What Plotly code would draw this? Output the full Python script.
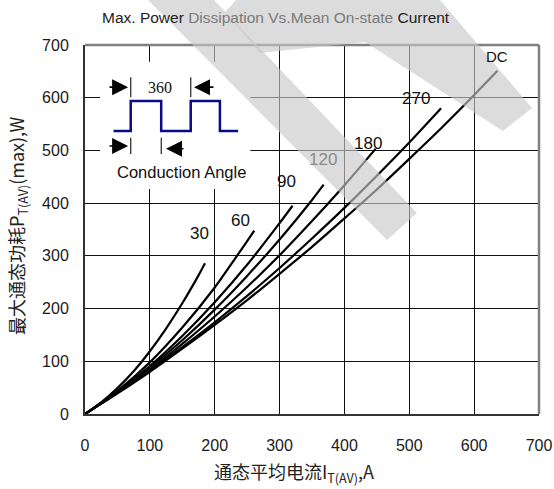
import plotly.graph_objects as go

# ---------------- data ----------------
I_30 = [0, 25, 50, 75, 100, 125, 150, 175, 185]
P_30 = [0, 22, 49, 81, 119, 162, 210, 263, 286]
I_60 = [0, 50, 100, 150, 200, 250, 261]
P_60 = [0, 44, 98, 164, 240, 328, 348]
I_90 = [0, 50, 100, 150, 200, 250, 300, 320]
P_90 = [0, 42, 91, 148, 212, 283, 362, 395]
I_120 = [0, 50, 100, 150, 200, 250, 300, 350, 368]
P_120 = [0, 41, 88, 140, 198, 262, 331, 406, 435]
I_180 = [0, 50, 100, 150, 200, 250, 300, 350, 400, 448]
P_180 = [0, 40, 84, 133, 185, 241, 301, 366, 434, 503]
I_270 = [0, 50, 100, 150, 200, 250, 300, 350, 400, 450, 500, 549]
P_270 = [0, 40, 82, 127, 174, 224, 277, 333, 391, 452, 515, 580]
I_DC = [0, 50, 100, 150, 200, 250, 300, 350, 400, 450, 500, 550, 600, 636]
P_DC = [0, 39, 80, 124, 169, 216, 266, 317, 371, 426, 484, 543, 605, 651]

curve_names = ["30", "60", "90", "120", "180", "270", "DC"]
curve_I = [I_30, I_60, I_90, I_120, I_180, I_270, I_DC]
curve_P = [P_30, P_60, P_90, P_120, P_180, P_270, P_DC]
label_x = [176, 239, 311, 367, 437, 511, 635]
label_y = [343, 367, 442, 483, 513, 599, 679]
label_color = ["#111", "#111", "#111", "#8a8a8a", "#111", "#111", "#111"]

x_ticks = [0, 100, 200, 300, 400, 500, 600, 700]
y_ticks = [0, 100, 200, 300, 400, 500, 600, 700]

# inset waveform (conduction angle diagram)
wave_x = [44, 70.5, 70.5, 117.5, 117.5, 163, 163, 208, 208, 236]
wave_y = [537, 537, 594, 594, 537, 537, 594, 594, 537, 537]

W, H = 554, 489
PL, PR, PT, PB = 85, 539, 45, 414          # plot area in page pixels
ML, MT, MR, MB = PL, PT, W - PR, H - PB
PW, PH = PR - PL, PB - PT


def px(x, y):
    return (x - PL) / PW, (PB - y) / PH


def poly(points):
    s = ""
    for i, (x, y) in enumerate(points):
        u, v = px(x, y)
        s += ("M" if i == 0 else "L") + f"{u:.4f},{v:.4f} "
    return s + "Z"


fig = go.Figure()
for name, xs, ys in zip(curve_names, curve_I, curve_P):
    fig.add_trace(go.Scatter(x=xs, y=ys, mode="lines", name=name,
                             line=dict(color="black", width=2.2, shape="spline", smoothing=0.6),
                             showlegend=False, hoverinfo="skip"))

fig.add_trace(go.Scatter(x=wave_x, y=wave_y, mode="lines", showlegend=False,
                         line=dict(color="#0b0b8a", width=2.5), hoverinfo="skip"))

annotations = []
for name, lx, ly, lc in zip(curve_names, label_x, label_y, label_color):
    f = dict(family="Liberation Sans, Arial, sans-serif", size=17, color=lc)
    if name == "DC":
        f = dict(family="Liberation Sans, Arial, sans-serif", size=15, color=lc)
    annotations.append(dict(x=lx, y=ly, xref="x", yref="y", text=name, showarrow=False, font=f,
                            xanchor="center", yanchor="middle"))

# inset texts
annotations.append(dict(x=115.6, y=620, xref="x", yref="y", text="360", showarrow=False,
                        xanchor="center", yanchor="middle",
                        font=dict(family="Liberation Serif, Times New Roman, serif", size=16, color="#111")))
annotations.append(dict(x=149, y=460, xref="x", yref="y", text="Conduction Angle", showarrow=False,
                        xanchor="center", yanchor="middle",
                        font=dict(family="Liberation Sans, Arial, sans-serif", size=16.5, color="#111")))

# inset arrows
for (x0, x1, yy) in [(35.5, 66.5, 620), (200.4, 168.1, 620), (35.5, 66.5, 508.4), (154.2, 124.9, 503.3)]:
    annotations.append(dict(x=x1, y=yy, ax=x0, ay=yy, xref="x", yref="y", axref="x", ayref="y",
                            text="", showarrow=True, arrowhead=2, arrowsize=2.0, arrowwidth=1.6,
                            arrowcolor="black", standoff=0, startstandoff=0))

# axis titles
annotations.append(dict(x=px(17, 0)[0], y=px(0, 226)[1], xref="paper", yref="paper", textangle=-90,
                        xanchor="center", yanchor="middle",
                        text="最大通态功耗P<sub>T(AV)</sub>(max),W", showarrow=False,
                        font=dict(family="Noto Sans CJK SC, Liberation Sans, sans-serif", size=18, color="#222")))
annotations.append(dict(x=px(294, 0)[0], y=px(0, 472)[1], xref="paper", yref="paper",
                        xanchor="center", yanchor="middle",
                        text="通态平均电流I<sub>T(AV)</sub>,A", showarrow=False,
                        font=dict(family="Noto Sans CJK SC, Liberation Sans, sans-serif", size=18, color="#222")))
# chart title (part of it lies under the grey watermark)
annotations.append(dict(x=px(276, 0)[0], y=px(0, 17)[1], xref="paper", yref="paper",
                        xanchor="center", yanchor="middle",
                        text="Max. Power <span style='color:#7a7a7a'>Dissipation Vs.Mean On-state</span> Current",
                        showarrow=False,
                        font=dict(family="Liberation Sans, Arial, sans-serif", size=15.5, color="#222")))

shapes = []
# white inset background
shapes.append(dict(type="rect", xref="x", yref="y", x0=23, x1=255, y0=427, y1=668,
                   fillcolor="white", line=dict(width=0), layer="between"))
# inset tick marks
for (xx, y0, y1) in [(70.5, 601, 639), (163, 601, 639), (70.5, 493, 524), (117.6, 493, 524)]:
    shapes.append(dict(type="line", xref="x", yref="y", x0=xx, x1=xx, y0=y0, y1=y1,
                       line=dict(color="#333", width=1.3), layer="above"))
# frame top / right
shapes.append(dict(type="line", xref="paper", yref="paper", x0=0, x1=1, y0=1, y1=1,
                   line=dict(color="#808080", width=2.5), layer="above"))
shapes.append(dict(type="line", xref="paper", yref="paper", x0=1, x1=1, y0=0, y1=1,
                   line=dict(color="#808080", width=2.5), layer="above"))
# watermark bands (convex pieces)
wm = "rgba(200,200,200,0.64)"
for pts in [
    [(148, 0), (214, 0), (417, 213), (387, 240)],
    [(225, 12), (236, 0), (365, 0), (365, 42), (260, 53)],
    [(365, 0), (440, 0), (532, 108), (503, 131), (365, 42)],
]:
    shapes.append(dict(type="path", xref="paper", yref="paper", layer="above", fillcolor=wm,
                       line=dict(width=0), path=poly(pts)))

fig.update_layout(
    width=W, height=H,
    margin=dict(l=ML, r=MR, t=MT, b=MB, autoexpand=False),
    paper_bgcolor="white", plot_bgcolor="white",
    annotations=annotations, shapes=shapes,
    showlegend=False,
)
fig.update_xaxes(range=[0, 700], tickvals=x_ticks, ticktext=[str(v) for v in x_ticks],
                 showgrid=True, gridcolor="#111", gridwidth=1, zeroline=False, automargin=False,
                 showline=True, linecolor="#333", linewidth=2, ticks="", ticklabelstandoff=16,
                 tickfont=dict(family="Liberation Sans, Arial, sans-serif", size=16, color="#1a1a1a"))
fig.update_yaxes(range=[0, 700], tickvals=y_ticks, ticktext=[str(v) for v in y_ticks],
                 showgrid=True, gridcolor="#111", gridwidth=1, zeroline=False, automargin=False,
                 showline=True, linecolor="#333", linewidth=2, ticks="", ticklabelstandoff=11,
                 tickfont=dict(family="Liberation Sans, Arial, sans-serif", size=16, color="#1a1a1a"))

fig.write_html("out.html", config={"displayModeBar": False},
               post_script="document.body.style.margin='0px';document.body.style.overflow='hidden';")
